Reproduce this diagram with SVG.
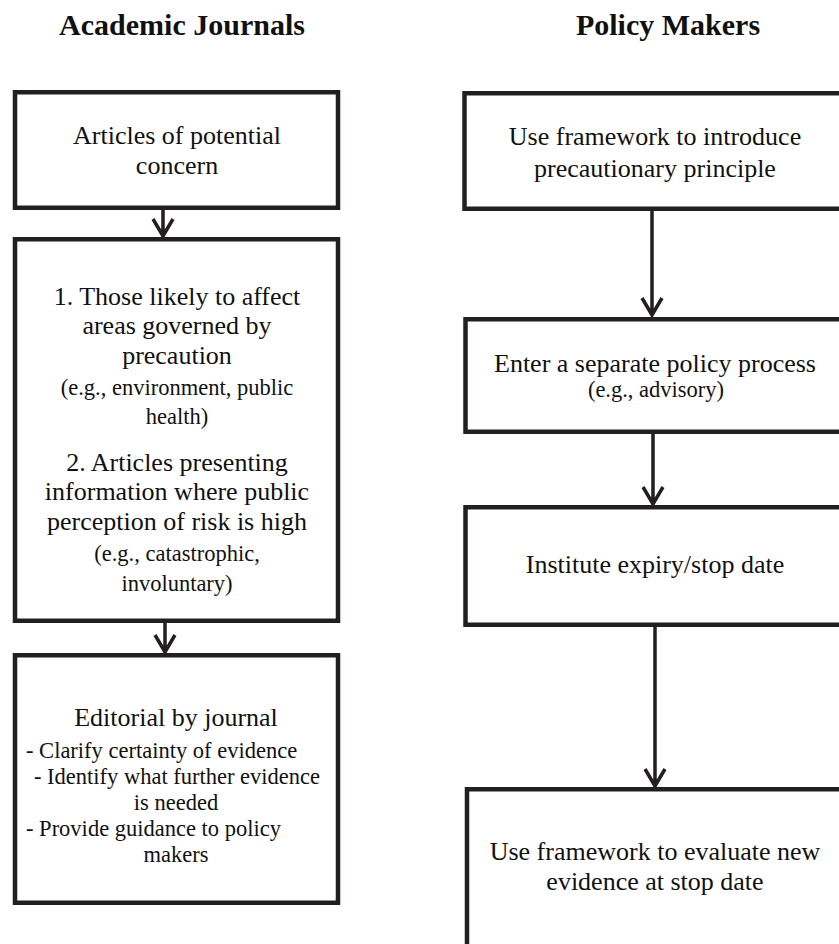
<svg xmlns="http://www.w3.org/2000/svg" width="839" height="944" viewBox="0 0 839 944">
<style>
.box{fill:#fff;stroke:#231f20;stroke-width:4.5}
.t{font-family:"Liberation Serif","Times New Roman",serif;fill:#111;text-anchor:middle}
.b{font-size:26px}
.s{font-size:22.5px}
.h{font-size:30px;font-weight:bold}
.l{text-anchor:start}
.c{stroke:#231f20;stroke-width:3.5;fill:none}
</style>
<rect width="839" height="944" fill="#fff"/>
<g id="titles">
<text class="t h" x="182" y="35">Academic Journals</text>
<text class="t h" x="668" y="35">Policy Makers</text>
</g>
<g id="connectors">
<path class="c" d="M163 210V236M153 219L163 236L173 219"/>
<path class="c" d="M165 623V652M155 635L165 652L175 635"/>
<path class="c" d="M652 211V315M642 298L652 315L662 298"/>
<path class="c" d="M653 434V504M643 487L653 504L663 487"/>
<path class="c" d="M655 627V786M645 769L655 786L665 769"/>
</g>
<g id="n1">
<rect class="box" x="15" y="92.25" width="323" height="115.5"/>
<text class="t b" x="177" y="144">Articles of potential</text>
<text class="t b" x="177" y="174">concern</text>
</g>
<g id="n2">
<rect class="box" x="15" y="239.25" width="323" height="381.5"/>
<text class="t b" x="177" y="305">1. Those likely to affect</text>
<text class="t b" x="177" y="334">areas governed by</text>
<text class="t b" x="177" y="364">precaution</text>
<text class="t s" x="177" y="395">(e.g., environment, public</text>
<text class="t s" x="177" y="424">health)</text>
<text class="t b" x="177" y="471">2. Articles presenting</text>
<text class="t b" x="177" y="500">information where public</text>
<text class="t b" x="177" y="530">perception of risk is high</text>
<text class="t s" x="177" y="561">(e.g., catastrophic,</text>
<text class="t s" x="177" y="591">involuntary)</text>
</g>
<g id="n3">
<rect class="box" x="15" y="655.25" width="323" height="247.5"/>
<text class="t b" x="176" y="726">Editorial by journal</text>
<text class="t s l" x="26" y="758">- Clarify certainty of evidence</text>
<text class="t s" x="177" y="784">- Identify what further evidence</text>
<text class="t s" x="176" y="810">is needed</text>
<text class="t s l" x="26" y="836">- Provide guidance to policy</text>
<text class="t s" x="176" y="862">makers</text>
</g>
<g id="p1">
<rect class="box" x="464.5" y="93.25" width="400" height="115.5"/>
<text class="t b" x="655" y="145">Use framework to introduce</text>
<text class="t b" x="655" y="177">precautionary principle</text>
</g>
<g id="p2">
<rect class="box" x="465.5" y="319.25" width="400" height="112.5"/>
<text class="t b" x="655" y="372">Enter a separate policy process</text>
<text class="t s" x="656" y="397">(e.g., advisory)</text>
</g>
<g id="p3">
<rect class="box" x="465.5" y="507.25" width="400" height="117.5"/>
<text class="t b" x="655" y="573">Institute expiry/stop date</text>
</g>
<g id="p4">
<rect class="box" x="467" y="789.25" width="400" height="300"/>
<text class="t b" x="655" y="860">Use framework to evaluate new</text>
<text class="t b" x="655" y="890">evidence at stop date</text>
</g>
</svg>
